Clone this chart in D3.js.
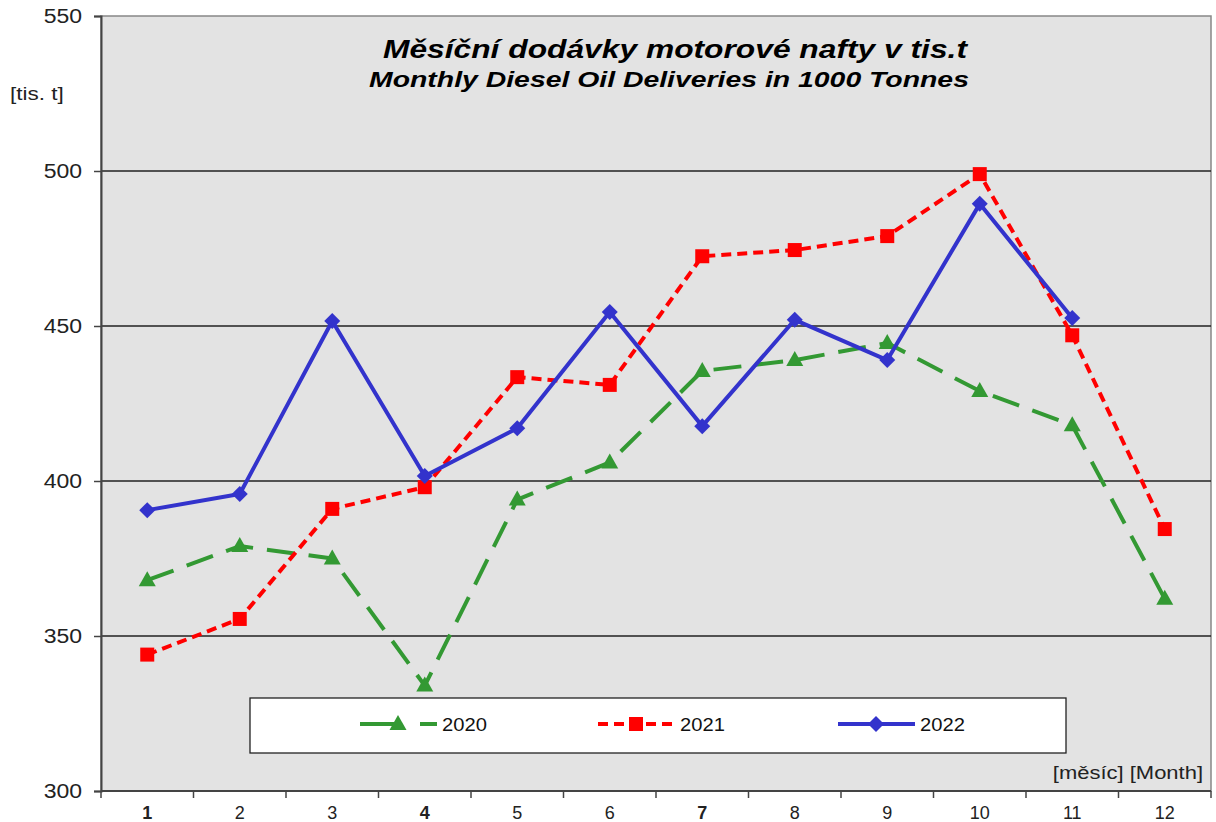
<!DOCTYPE html>
<html lang="cs">
<head>
<meta charset="UTF-8">
<title>Měsíční dodávky motorové nafty</title>
<style>
  body { margin: 0; background: #fff; font-family: "Liberation Sans", Arial, sans-serif; }
  svg { display: block; }
</style>
</head>
<body>
<svg id="chart" width="1216" height="822"></svg>
<script src="https://d3js.org/d3.v7.min.js"></script>
<script>
// data
const months = ["1", "2", "3", "4", "5", "6", "7", "8", "9", "10", "11", "12"];
const yTicks = [300, 350, 400, 450, 500, 550];
const d2020 = [368, 379, 375, 334, 394, 406, 435.5, 439, 444.5, 429, 418, 362];
const d2021 = [344, 355.5, 391, 398, 433.5, 431, 472.5, 474.5, 479, 499, 447, 384.5];
const d2022 = [390.6, 395.8, 451.6, 401.6, 417, 454.5, 417.7, 452, 439, 489.4, 452.6];

const series = [
  { name: "2020", values: d2020, color: "#339933", dash: "28,14", marker: "triangle" },
  { name: "2021", values: d2021, color: "#ff0000", dash: "10,6", marker: "square" },
  { name: "2022", values: d2022, color: "#3333cc", dash: null, marker: "diamond" }
];

const svg = d3.select("#chart");
const mLeft = 101, mRight = 1211, mTop = 16, mBottom = 791;

const x = d3.scaleBand().domain(months).range([mLeft, mRight]);
const y = d3.scaleLinear().domain([300, 550]).range([mBottom, mTop]);

// the source picture is a little wider than tall, so text is widened
function stretch(sel, k) {
  sel.each(function () {
    const w = this.getComputedTextLength();
    d3.select(this).attr("textLength", w * k).attr("lengthAdjust", "spacingAndGlyphs");
  });
}

// plot area
svg.append("rect")
  .attr("x", mLeft).attr("y", mTop)
  .attr("width", mRight - mLeft).attr("height", mBottom - mTop)
  .attr("fill", "#e3e3e3")
  .attr("stroke", "#888").attr("stroke-width", 1.5);

// grid
svg.append("g").selectAll("line")
  .data(yTicks.filter(d => d > 300 && d < 550))
  .join("line")
  .attr("x1", mLeft).attr("x2", mRight)
  .attr("y1", d => y(d)).attr("y2", d => y(d))
  .attr("stroke", "#222").attr("stroke-width", 1.3);

// y axis
const yAxis = svg.append("g")
  .attr("transform", `translate(${mLeft},0)`)
  .call(d3.axisLeft(y).tickValues(yTicks).tickSize(7).tickPadding(12));
yAxis.select(".domain").attr("stroke", "#444").attr("stroke-width", 2);
yAxis.selectAll(".tick line").attr("stroke", "#444").attr("stroke-width", 1.5);
yAxis.selectAll("text").attr("font-size", 20).attr("fill", "#222")
  .attr("font-family", "Liberation Sans, Arial, sans-serif");
stretch(yAxis.selectAll("text"), 1.15);

// x axis, ticks at band edges
const xAxis = svg.append("g").attr("transform", `translate(0,${mBottom})`);
xAxis.append("line").attr("x1", mLeft).attr("x2", mRight)
  .attr("stroke", "#444").attr("stroke-width", 2);
xAxis.selectAll(".edge")
  .data(months.concat(["end"]))
  .join("line")
  .attr("class", "edge")
  .attr("x1", (d, i) => i < months.length ? x(d) : mRight)
  .attr("x2", (d, i) => i < months.length ? x(d) : mRight)
  .attr("y1", 0).attr("y2", 7)
  .attr("stroke", "#444").attr("stroke-width", 1.5);
xAxis.selectAll("text")
  .data(months)
  .join("text")
  .attr("x", d => x(d) + x.bandwidth() / 2)
  .attr("y", 28)
  .attr("text-anchor", "middle")
  .attr("font-size", 18).attr("fill", "#222")
  .attr("font-weight", d => ["1", "4", "7"].includes(d) ? "bold" : "normal")
  .text(d => d);

// markers
function drawMarker(g, type, color, cx, cy) {
  if (type === "triangle") {
    g.append("path").attr("d", `M${cx},${cy - 9}L${cx + 8.5},${cy + 6}L${cx - 8.5},${cy + 6}Z`).attr("fill", color);
  } else if (type === "square") {
    g.append("rect").attr("x", cx - 7).attr("y", cy - 7).attr("width", 14).attr("height", 14).attr("fill", color);
  } else {
    g.append("path").attr("d", `M${cx},${cy - 8}L${cx + 8},${cy}L${cx},${cy + 8}L${cx - 8},${cy}Z`).attr("fill", color);
  }
}

const line = d3.line()
  .x((d, i) => x(months[i]) + x.bandwidth() / 2)
  .y(d => y(d));

series.forEach(s => {
  const g = svg.append("g");
  g.append("path")
    .datum(s.values)
    .attr("d", line)
    .attr("fill", "none")
    .attr("stroke", s.color)
    .attr("stroke-width", 4)
    .attr("stroke-dasharray", s.dash)
    .attr("stroke-linejoin", "round");
  s.values.forEach((v, i) => drawMarker(g, s.marker, s.color, x(months[i]) + x.bandwidth() / 2, y(v)));
});

// legend
const lg = svg.append("g");
lg.append("rect").attr("x", 250).attr("y", 698).attr("width", 816).attr("height", 55)
  .attr("fill", "#fff").attr("stroke", "#222").attr("stroke-width", 1.3);
const legX = [360, 598, 838];
series.forEach((s, i) => {
  const x0 = legX[i], ly = 724;
  lg.append("line").attr("x1", x0).attr("x2", x0 + 77).attr("y1", ly).attr("y2", ly)
    .attr("stroke", s.color).attr("stroke-width", 4)
    .attr("stroke-dasharray", s.marker === "triangle" ? "38,22" : s.dash);
  drawMarker(lg, s.marker, s.color, x0 + 38, ly);
  const t = lg.append("text").attr("x", x0 + 82).attr("y", ly + 7)
    .attr("font-size", 18).attr("fill", "#111").text(s.name);
  stretch(t, 1.12);
});

// titles
const t1 = svg.append("text").attr("x", 675).attr("y", 58).attr("text-anchor", "middle")
  .attr("font-size", 25).attr("font-weight", "bold").attr("font-style", "italic")
  .text("Měsíční dodávky motorové nafty v tis.t");
stretch(t1, 1.27);
const t2 = svg.append("text").attr("x", 669).attr("y", 87).attr("text-anchor", "middle")
  .attr("font-size", 22).attr("font-weight", "bold").attr("font-style", "italic")
  .text("Monthly Diesel Oil Deliveries in 1000 Tonnes");
stretch(t2, 1.29);

const t3 = svg.append("text").attr("x", 10).attr("y", 100).attr("font-size", 18).attr("fill", "#222")
  .text("[tis. t]");
stretch(t3, 1.25);
const t4 = svg.append("text").attr("x", 1203).attr("y", 779).attr("text-anchor", "end")
  .attr("font-size", 18).attr("fill", "#222").text("[měsíc] [Month]");
stretch(t4, 1.22);
</script>
</body>
</html>
